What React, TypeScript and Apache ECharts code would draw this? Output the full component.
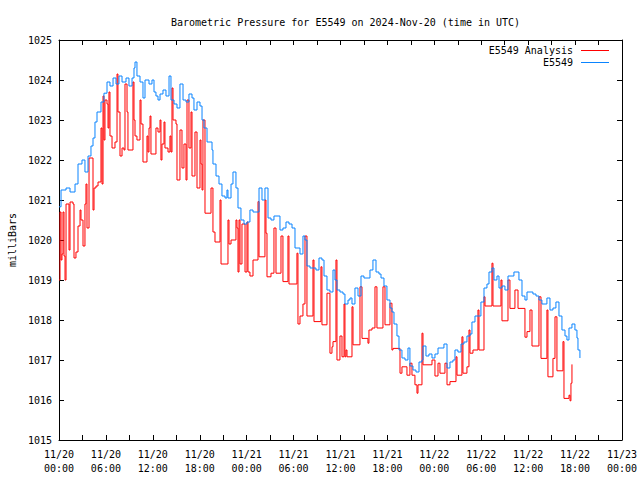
import React, { useEffect, useRef } from "react";
import * as echarts from "echarts";

const titleText = "Barometric Pressure for E5549 on 2024-Nov-20 (time in UTC)";
const yAxisName = "milliBars";
const seriesNames = ["E5549 Analysis", "E5549"];
const seriesColors = ["#ff0000", "#0a84ff"];

// hours since 2024-11-20 00:00 UTC
const blueHours = [
  0.0, 0.26, 0.9, 1.41, 2.05, 2.43, 2.94, 3.32, 3.71, 4.09, 4.35, 4.6, 4.86, 5.37, 5.75, 6.14, 6.52, 6.91, 7.29, 7.67,
  8.06, 8.57, 8.95, 9.34, 9.59, 9.72, 9.97, 10.36, 10.74, 11.0, 11.51, 11.89, 12.15, 12.4, 12.66, 12.92, 13.3, 13.68,
  14.07, 14.32, 14.71, 15.09, 15.47, 15.86, 16.24, 16.62, 17.01, 17.26, 17.65, 18.03, 18.29, 18.54, 18.93, 19.31, 19.57,
  19.69, 20.08, 20.46, 20.84, 21.23, 21.48, 21.61, 22.0, 22.25, 22.63, 22.89, 23.27, 23.66, 24.04, 24.42, 24.81, 25.19,
  25.58, 25.96, 26.34, 26.73, 27.11, 27.49, 27.88, 28.26, 28.64, 29.03, 29.41, 29.8, 30.18, 30.56, 30.82, 31.2, 31.46,
  31.71, 32.1, 32.48, 32.86, 33.25, 33.63, 33.89, 34.27, 34.65, 35.04, 35.29, 35.55, 35.93, 36.32, 36.57, 36.96, 37.21,
  37.47, 37.85, 38.24, 38.62, 39.0, 39.39, 39.77, 40.15, 40.54, 40.92, 41.18, 41.56, 41.94, 42.33, 42.58, 42.84, 43.22,
  43.48, 43.86, 44.25, 44.63, 44.88, 45.27, 45.65, 46.04, 46.42, 46.55, 46.93, 47.31, 47.7, 48.08, 48.47, 48.85, 49.23,
  49.62, 50.0, 50.38, 50.64, 51.02, 51.41, 51.79, 52.17, 52.56, 52.81, 53.2, 53.58, 53.96, 54.35, 54.73, 54.99, 55.37,
  55.63, 56.01, 56.27, 56.65, 57.03, 57.42, 57.8, 58.18, 58.57, 58.82, 59.21, 59.59, 59.85, 60.23, 60.61, 61.0, 61.38,
  61.76, 62.15, 62.4, 62.79, 63.17, 63.55, 63.94, 64.32, 64.71, 64.96, 65.22, 65.6, 65.98, 66.24, 66.37, 66.62,
];
const bluePressure = [
  1020.83, 1021.25, 1021.3, 1021.2, 1021.4, 1021.9, 1022.0, 1021.7, 1022.1, 1022.35, 1022.55, 1022.95, 1023.2, 1023.45,
  1023.67, 1023.95, 1023.85, 1024.05, 1023.9, 1024.1, 1023.95, 1024.05, 1023.85, 1024.05, 1024.3, 1024.45, 1024.1,
  1023.95, 1023.55, 1024.0, 1023.9, 1024.0, 1023.7, 1023.6, 1023.5, 1023.65, 1023.75, 1023.6, 1024.1, 1023.5, 1023.4,
  1023.3, 1023.9, 1023.5, 1023.45, 1023.65, 1023.55, 1023.25, 1023.45, 1023.35, 1023.0, 1022.8, 1022.45, 1022.45,
  1022.25, 1021.9, 1021.6, 1021.4, 1021.1, 1021.05, 1021.25, 1021.05, 1021.4, 1021.7, 1021.3, 1020.8, 1020.5, 1020.4,
  1020.45, 1020.75, 1020.7, 1020.7, 1021.3, 1021.0, 1021.3, 1020.55, 1020.5, 1020.6, 1020.6, 1020.25, 1020.3, 1020.45,
  1020.4, 1020.3, 1019.8, 1019.8, 1019.65, 1020.1, 1020.0, 1019.35, 1019.3, 1019.3, 1019.25, 1019.55, 1019.5, 1019.1,
  1018.75, 1018.7, 1019.25, 1019.0, 1018.75, 1018.7, 1018.65, 1018.4, 1018.5, 1018.55, 1018.4, 1018.8, 1018.6, 1019.1,
  1019.05, 1019.05, 1019.25, 1019.5, 1019.2, 1019.15, 1019.05, 1018.85, 1018.5, 1018.3, 1018.2, 1017.9, 1017.6,
  1017.25, 1017.05, 1017.0, 1017.3, 1016.85, 1016.75, 1016.7, 1016.95, 1017.0, 1017.35, 1017.1, 1017.15, 1017.05,
  1017.15, 1017.3, 1017.3, 1017.4, 1016.8, 1016.95, 1017.0, 1017.25, 1017.2, 1017.4, 1017.45, 1017.6, 1017.65, 1017.95,
  1018.1, 1018.1, 1018.45, 1018.8, 1018.9, 1019.2, 1019.3, 1019.0, 1019.1, 1018.8, 1018.85, 1018.75, 1019.1, 1019.1,
  1019.2, 1019.2, 1019.0, 1018.6, 1018.5, 1018.7, 1018.7, 1018.65, 1018.6, 1018.5, 1018.4, 1018.4, 1018.55, 1018.25,
  1018.3, 1018.45, 1018.1, 1017.75, 1017.6, 1017.5, 1017.8, 1017.9, 1017.75, 1017.55, 1017.25, 1017.05,
];

const redHours = [
  0.0, 0.13, 0.26, 0.38, 0.51, 0.64, 0.77, 0.9, 1.28, 1.41, 1.79, 1.92, 2.17, 2.43, 2.69, 2.81, 3.07, 3.32, 3.45, 3.58,
  3.84, 4.35, 4.48, 4.73, 4.99, 5.37, 5.5, 5.63, 5.75, 5.88, 6.14, 6.27, 6.39, 6.52, 6.78, 7.16, 7.42, 7.54, 7.8, 8.06,
  8.31, 8.44, 8.7, 8.82, 9.46, 9.59, 9.72, 9.97, 10.36, 10.49, 10.74, 11.25, 11.38, 11.51, 11.64, 11.76, 12.4, 12.66,
  12.92, 13.04, 13.17, 13.43, 13.55, 13.94, 14.19, 14.32, 14.45, 14.58, 14.96, 15.09, 15.47, 15.73, 15.98, 16.24, 16.37,
  16.62, 16.88, 17.01, 17.39, 17.65, 18.03, 18.16, 18.29, 18.41, 18.67, 19.44, 19.69, 19.95, 20.59, 20.72, 21.61, 21.74,
  22.0, 22.63, 22.76, 22.89, 23.02, 23.15, 23.4, 23.79, 24.04, 24.17, 24.42, 24.81, 25.45, 25.58, 26.34, 26.47, 26.6,
  27.11, 27.49, 27.75, 28.39, 28.64, 29.28, 29.41, 30.43, 30.56, 30.82, 31.2, 31.46, 31.71, 32.48, 32.61, 33.5, 33.63,
  34.27, 34.65, 34.91, 35.04, 35.42, 35.55, 35.93, 36.19, 36.45, 36.57, 36.7, 36.83, 37.47, 37.6, 38.49, 38.75, 39.51,
  39.64, 40.03, 40.41, 40.66, 41.43, 41.69, 42.33, 42.58, 42.71, 43.61, 43.86, 44.5, 44.88, 45.14, 45.52, 45.78, 45.91,
  46.42, 46.55, 47.7, 48.08, 48.47, 48.72, 49.36, 49.62, 50.0, 50.77, 50.9, 51.53, 51.66, 52.17, 52.43, 52.56, 52.94,
  53.58, 53.71, 54.35, 54.48, 55.37, 55.5, 56.52, 56.65, 57.42, 57.67, 58.31, 58.7, 59.59, 59.85, 60.23, 60.49, 61.38,
  61.64, 62.4, 62.53, 63.17, 63.43, 63.68, 64.45, 64.58, 65.22, 65.35, 65.47, 65.6,
];
const redPressure = [
  1019.0, 1020.7, 1019.5, 1019.65, 1020.7, 1019.6, 1019.0, 1020.9, 1019.75, 1020.95, 1020.9, 1019.55, 1019.7, 1020.35,
  1020.75, 1020.5, 1019.85, 1020.9, 1021.4, 1020.3, 1022.05, 1020.75, 1021.3, 1021.35, 1021.45, 1022.8, 1021.4, 1023.6,
  1022.5, 1023.5, 1023.4, 1022.8, 1023.7, 1022.6, 1022.3, 1022.45, 1024.15, 1023.2, 1022.1, 1022.3, 1022.25, 1023.9,
  1023.2, 1022.25, 1023.95, 1023.0, 1022.6, 1022.5, 1023.5, 1022.9, 1021.95, 1022.6, 1022.2, 1022.8, 1023.1, 1022.15,
  1022.8, 1022.7, 1023.0, 1022.0, 1022.4, 1022.95, 1022.3, 1022.2, 1022.6, 1022.2, 1023.8, 1023.0, 1022.9, 1021.5,
  1022.75, 1021.8, 1022.4, 1021.5, 1023.5, 1022.3, 1023.2, 1021.6, 1022.7, 1021.3, 1022.5, 1021.9, 1021.25, 1023.0,
  1020.67, 1021.3, 1020.2, 1019.95, 1021.0, 1019.4, 1020.5, 1019.9, 1020.0, 1020.5, 1020.3, 1019.2, 1020.5, 1019.4,
  1020.4, 1019.2, 1020.45, 1019.2, 1019.1, 1019.5, 1020.96, 1019.58, 1021.0, 1020.17, 1019.08, 1019.17, 1020.3, 1019.17,
  1020.1, 1018.96, 1020.1, 1018.9, 1019.67, 1017.9, 1018.1, 1018.4, 1020.1, 1018.1, 1019.5, 1017.96, 1019.33, 1017.88,
  1018.67, 1017.17, 1017.33, 1017.46, 1019.5, 1017.0, 1017.6, 1017.08, 1018.4, 1017.08, 1017.25, 1017.08, 1018.33,
  1017.38, 1018.83, 1017.54, 1017.42, 1017.75, 1017.8, 1018.83, 1017.8, 1018.83, 1017.88, 1018.42, 1017.25, 1017.29,
  1016.67, 1016.83, 1016.62, 1016.92, 1016.62, 1016.38, 1016.17, 1016.38, 1017.67, 1016.88, 1017.0, 1016.6, 1016.92,
  1016.67, 1016.92, 1016.38, 1016.46, 1017.08, 1016.62, 1017.58, 1016.67, 1016.83, 1017.75, 1017.17, 1017.25, 1018.25,
  1017.25, 1018.58, 1018.35, 1019.42, 1018.35, 1019.0, 1017.98, 1019.0, 1018.29, 1018.75, 1018.29, 1017.57, 1017.71,
  1018.25, 1017.35, 1018.58, 1017.04, 1018.25, 1016.58, 1017.04, 1018.08, 1016.73, 1017.46, 1016.04, 1016.12, 1015.98,
  1016.42, 1016.89,
];

const xMin = 0;
const xMax = 72;
const xInterval = 6;
const yMin = 1015;
const yMax = 1025;
const yInterval = 1;

const FONT = "'DejaVu Sans Mono', 'Liberation Mono', monospace";

function hourLabel(h: number): string {
  const day = 20 + Math.floor(h / 24);
  const hh = Math.round(h % 24);
  return "11/" + day + "\n" + (hh < 10 ? "0" + hh : "" + hh) + ":00";
}

export default function App() {
  const ref = useRef<HTMLDivElement>(null);
  useEffect(() => {
    document.body.style.margin = "0";
    if (!ref.current) return;
    const chart = echarts.init(ref.current, null, { renderer: "svg" });
    const left = 59, right = 622, top = 40, bottom = 440;
    const tickCommon = {
      show: true,
      inside: true,
      length: 5,
      lineStyle: { color: "#000", width: 1 },
    };
    const xBase = {
      type: "value",
      min: xMin,
      max: xMax,
      interval: xInterval,
      splitLine: { show: false },
      axisLine: { show: true, onZero: false, lineStyle: { color: "#000", width: 1 } },
      axisTick: tickCommon,
      minorTick: { show: true, splitNumber: 2, length: 5, lineStyle: { color: "#000", width: 1 } },
    };
    const yBase = {
      type: "value",
      min: yMin,
      max: yMax,
      interval: yInterval,
      splitLine: { show: false },
      axisLine: { show: true, onZero: false, lineStyle: { color: "#000", width: 1 } },
      axisTick: tickCommon,
    };
    chart.setOption({
      animation: false,
      backgroundColor: "#ffffff",
      title: {
        text: titleText,
        left: (left + right) / 2,
        top: 12,
        textAlign: "center",
        textStyle: { fontFamily: FONT, fontSize: 10, fontWeight: "normal", color: "#000" },
      },
      grid: {
        left: left,
        right: 640 - right,
        top: top,
        bottom: 480 - bottom,
        containLabel: false,
        outerBoundsMode: "none",
      },
      xAxis: [
        {
          ...xBase,
          position: "bottom",
          axisLabel: {
            show: true,
            margin: 7,
            fontFamily: FONT,
            fontSize: 10,
            color: "#000",
            lineHeight: 14,
            formatter: (v: number) => hourLabel(v),
          },
        },
        { ...xBase, position: "top", axisLabel: { show: false } },
      ],
      yAxis: [
        {
          ...yBase,
          position: "left",
          name: yAxisName,
          nameLocation: "middle",
          nameRotate: 90,
          nameGap: 42,
          nameTextStyle: { fontFamily: FONT, fontSize: 10, color: "#000" },
          axisLabel: {
            show: true,
            margin: 7,
            fontFamily: FONT,
            fontSize: 10,
            color: "#000",
            formatter: (v: number) => String(v),
          },
        },
        { ...yBase, position: "right", axisLabel: { show: false } },
      ],
      series: [
        {
          name: seriesNames[0],
          type: "line",
          step: "end",
          xAxisIndex: 0,
          yAxisIndex: 0,
          symbol: "none",
          showSymbol: false,
          lineStyle: { color: seriesColors[0], width: 1 },
          data: redHours.map((h, i) => [h, redPressure[i]]),
          z: 2,
        },
        {
          name: seriesNames[1],
          type: "line",
          step: "end",
          xAxisIndex: 0,
          yAxisIndex: 0,
          symbol: "none",
          showSymbol: false,
          lineStyle: { color: seriesColors[1], width: 1 },
          data: blueHours.map((h, i) => [h, bluePressure[i]]),
          z: 3,
        },
      ],
      graphic: [
        {
          type: "text",
          x: 573,
          y: 50,
          style: {
            text: seriesNames[0],
            align: "right",
            verticalAlign: "middle",
            fontFamily: FONT,
            fontSize: 10,
            fill: "#000",
          },
        },
        {
          type: "line",
          shape: { x1: 581, y1: 50.5, x2: 609, y2: 50.5 },
          style: { stroke: seriesColors[0], lineWidth: 1 },
        },
        {
          type: "text",
          x: 573,
          y: 62,
          style: {
            text: seriesNames[1],
            align: "right",
            verticalAlign: "middle",
            fontFamily: FONT,
            fontSize: 10,
            fill: "#000",
          },
        },
        {
          type: "line",
          shape: { x1: 581, y1: 62.5, x2: 609, y2: 62.5 },
          style: { stroke: seriesColors[1], lineWidth: 1 },
        },
      ],
    });
    return () => chart.dispose();
  }, []);
  return <div ref={ref} style={{ width: 640, height: 480, position: "absolute", left: 0, top: 0 }} />;
}
